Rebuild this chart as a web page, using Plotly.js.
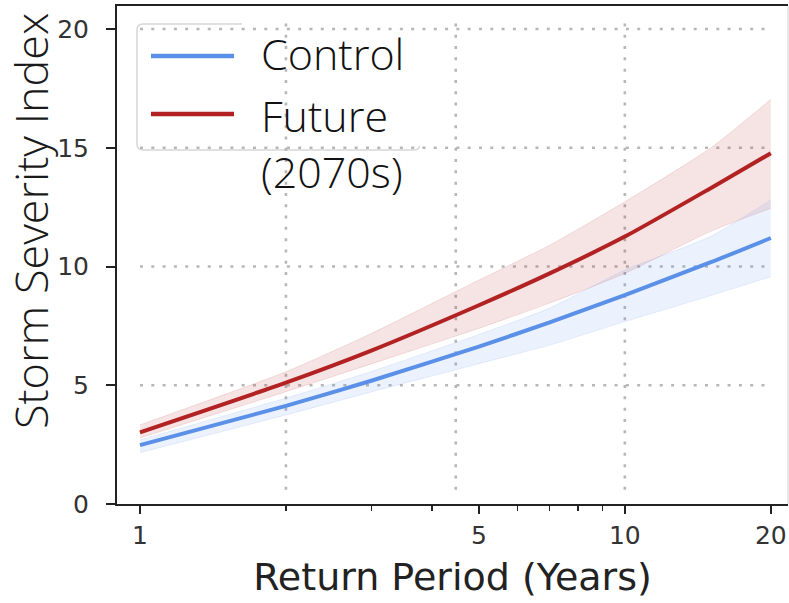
<!DOCTYPE html>
<html>
<head>
<meta charset="utf-8">
<script src="https://cdn.plot.ly/plotly-3.0.1.min.js"></script>
<style>html,body{margin:0;padding:0;background:#fff;}</style>
</head>
<body>
<div id="chart" style="width:789px;height:603px;"></div>
<script>
// Return periods (years) and storm severity estimates with uncertainty bands
const returnPeriod  = [1, 2, 3, 5, 7, 10, 15, 20];
const controlMean   = [2.48, 4.13, 5.19, 6.63, 7.65, 8.80, 10.17, 11.2];
const controlUpper  = [2.70, 4.46, 5.58, 7.14, 8.25, 9.85, 11.26, 12.8];
const controlLower  = [2.16, 3.75, 4.72, 5.91, 6.69, 7.68, 8.77, 9.57];
const futureMean    = [3.02, 5.11, 6.46, 8.37, 9.71, 11.26, 13.29, 14.77];
const futureUpper   = [3.33, 5.57, 7.18, 9.43, 10.9, 12.73, 14.98, 17.04];
const futureLower   = [2.78, 4.73, 5.90, 7.40, 8.46, 9.71, 11.47, 12.45];

const xTickVals  = [1, 5, 10, 20];
const xMinorVals = [2, 3, 4, 6, 7, 8, 9];
const yTickVals  = [0, 5, 10, 15, 20];

const seriesNames = ['Control', 'Future<br>(2070s)'];

const BLUE = '#5b90e8';
const RED  = '#b22222';
const BLUE_FILL = 'rgba(100,149,237,0.12)';
const RED_FILL  = 'rgba(178,34,34,0.12)';
const SMOOTH = {shape: 'spline', smoothing: 0.6};

const traces = [
  {x: returnPeriod, y: futureUpper, mode: 'lines', showlegend: false, hoverinfo: 'skip',
   line: Object.assign({color: 'rgba(178,34,34,0.12)', width: 1}, SMOOTH)},
  {x: returnPeriod, y: futureLower, mode: 'lines', showlegend: false, hoverinfo: 'skip',
   fill: 'tonexty', fillcolor: RED_FILL,
   line: Object.assign({color: 'rgba(178,34,34,0.12)', width: 1}, SMOOTH)},
  {x: returnPeriod, y: controlUpper, mode: 'lines', showlegend: false, hoverinfo: 'skip',
   line: Object.assign({color: 'rgba(100,149,237,0.14)', width: 1}, SMOOTH)},
  {x: returnPeriod, y: controlLower, mode: 'lines', showlegend: false, hoverinfo: 'skip',
   fill: 'tonexty', fillcolor: BLUE_FILL,
   line: Object.assign({color: 'rgba(100,149,237,0.14)', width: 1}, SMOOTH)},
  {x: returnPeriod, y: controlMean, mode: 'lines', name: seriesNames[0], showlegend: false,
   line: Object.assign({color: BLUE, width: 4}, SMOOTH)},
  {x: returnPeriod, y: futureMean, mode: 'lines', name: seriesNames[1], showlegend: false,
   line: Object.assign({color: RED, width: 4}, SMOOTH)}
];

// plot area in pixels: left 117, right 788, top 6, bottom 504
const W = 789, H = 603, L = 117, R = 788, T = 6, B = 504;
const px = v => (v - L) / (R - L);
const py = v => 1 - (v - T) / (B - T);

const gridStyle = {color: 'rgba(170,170,170,0.85)', width: 2.6, dash: '3px,8.3px'};
const shapes = [];
[2, 4.48, 10].forEach(gx => shapes.push({
  type: 'line', layer: 'below', xref: 'x', yref: 'y',
  x0: gx, x1: gx, y0: 0.6, y1: 20.5, line: gridStyle
}));
[5, 10, 15, 20].forEach(gy => shapes.push({
  type: 'line', layer: 'below', xref: 'x', yref: 'y',
  x0: 1, x1: 20, y0: gy, y1: gy, line: gridStyle
}));

// legend frame (rounded)
(function () {
  const x0 = px(137), x1 = px(420), y0 = py(150), y1 = py(24);
  const rx = 6 / (R - L), ry = 6 / (B - T);
  const d = `M${x0 + rx},${y1} L${x1 - rx},${y1} Q${x1},${y1} ${x1},${y1 - ry} ` +
            `L${x1},${y0 + ry} Q${x1},${y0} ${x1 - rx},${y0} L${x0 + rx},${y0} ` +
            `Q${x0},${y0} ${x0},${y0 + ry} L${x0},${y1 - ry} Q${x0},${y1} ${x0 + rx},${y1} Z`;
  shapes.push({type: 'path', layer: 'below', xref: 'paper', yref: 'paper', path: d,
    fillcolor: 'rgba(255,255,255,0.8)', line: {color: '#d6d6d6', width: 1.5}});
})();
// white label panel
shapes.push({type: 'rect', layer: 'below', xref: 'paper', yref: 'paper',
  x0: px(242), x1: px(553), y0: py(146), y1: py(15), fillcolor: '#ffffff', line: {width: 0}});
shapes.push({type: 'rect', layer: 'below', xref: 'paper', yref: 'paper',
  x0: px(420), x1: px(540), y0: py(153), y1: py(146), fillcolor: '#ffffff', line: {width: 0}});
// legend keys
shapes.push({type: 'line', layer: 'above', xref: 'paper', yref: 'paper',
  x0: px(151), x1: px(234), y0: py(56), y1: py(56), line: {color: BLUE, width: 4.5}});
shapes.push({type: 'line', layer: 'above', xref: 'paper', yref: 'paper',
  x0: px(151), x1: px(234), y0: py(114), y1: py(114), line: {color: RED, width: 4.5}});
// right edge
shapes.push({type: 'line', layer: 'above', xref: 'paper', yref: 'paper',
  x0: 1, x1: 1, y0: 0, y1: 1, line: {color: '#d0d0d0', width: 1}});

const labelFont = {family: 'Open Sans, Noto Sans, sans-serif', size: 43, color: '#111', weight: 300};
const annotations = [
  {text: 'Storm Severity Index', xref: 'paper', yref: 'paper', x: px(30), y: py(221),
   xanchor: 'center', yanchor: 'middle', textangle: -90, showarrow: false,
   font: {family: 'Open Sans, Noto Sans, sans-serif', size: 45, color: '#1a1a1a', weight: 300}},
  {text: seriesNames[0], xref: 'paper', yref: 'paper', x: px(259), y: py(54),
   xanchor: 'left', yanchor: 'middle', showarrow: false, font: labelFont},
  {text: seriesNames[1], xref: 'paper', yref: 'paper', x: px(259), y: py(112),
   xanchor: 'left', yanchor: 'top', yshift: 28, align: 'left', showarrow: false, font: labelFont}
];

const tickFont = {family: 'DejaVu Sans, sans-serif', size: 25, color: '#333'};

const layout = {
  width: W, height: H,
  margin: {l: L, r: W - R, t: T, b: H - B, pad: 0},
  paper_bgcolor: '#ffffff', plot_bgcolor: '#ffffff',
  showlegend: false,
  xaxis: {
    type: 'log', range: [-0.0474, 1.3365],
    tickmode: 'array', tickvals: xTickVals, ticktext: xTickVals.map(String),
    ticks: 'outside', ticklen: 8, tickwidth: 2, tickcolor: '#222',
    minor: {tickmode: 'array', tickvals: xMinorVals, ticks: 'outside', ticklen: 4.5,
            tickwidth: 1.5, tickcolor: '#222', showgrid: false},
    showgrid: false, zeroline: false,
    showline: true, linecolor: '#222', linewidth: 2, mirror: true,
    tickfont: tickFont,
    title: {text: 'Return Period (Years)', standoff: 14,
            font: {family: 'DejaVu Sans, sans-serif', size: 38, color: '#222'}}
  },
  yaxis: {
    range: [0, 20.97],
    tickmode: 'array', tickvals: yTickVals, ticktext: yTickVals.map(String),
    ticks: 'outside', ticklen: 9, tickwidth: 2, tickcolor: '#222',
    ticklabelstandoff: 12,
    showgrid: false, zeroline: false,
    showline: true, linecolor: '#222', linewidth: 2, mirror: false,
    tickfont: tickFont
  },
  shapes: shapes,
  annotations: annotations
};

Plotly.newPlot('chart', traces, layout, {staticPlot: true, displayModeBar: false});
</script>
</body>
</html>
